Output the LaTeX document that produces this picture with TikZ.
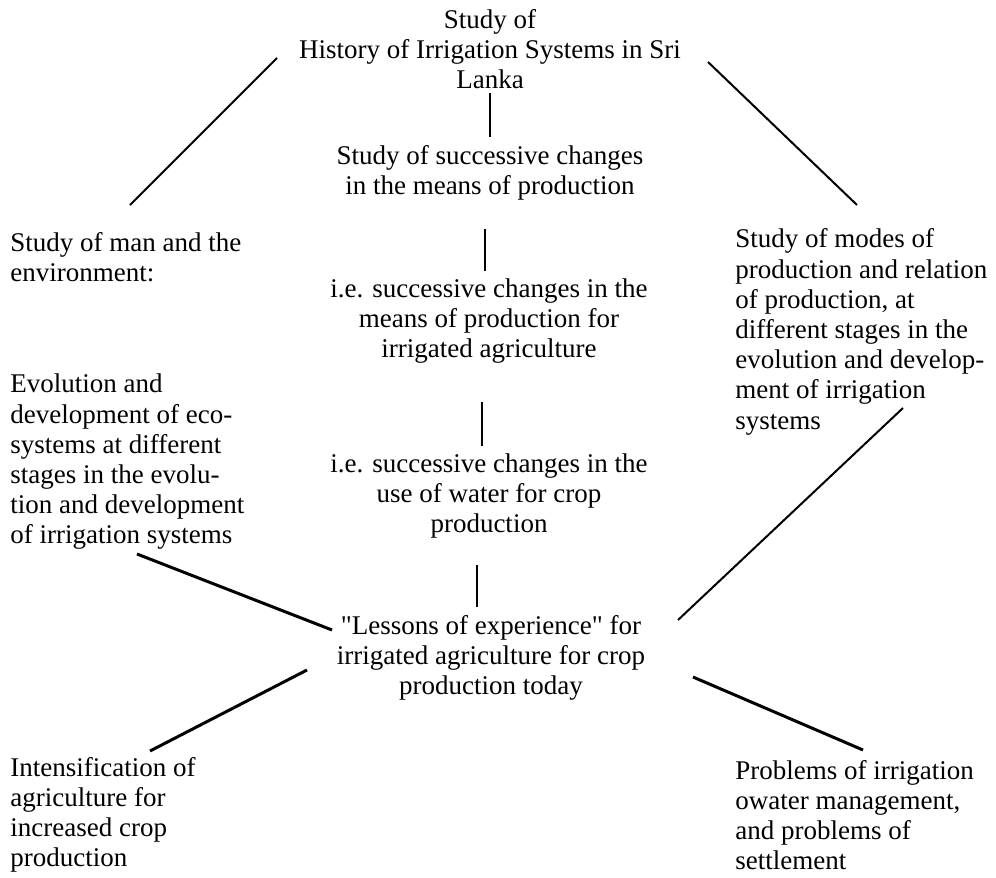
\documentclass[tikz,border=0pt]{standalone}
\usepackage{fontspec}
\setmainfont{Liberation Serif}[Ligatures=TeXOff]
\usepackage{tikz}
\usetikzlibrary{positioning}
\tikzset{
  study/.style={inner sep=0pt, font=\fontsize{13.5}{15.1}\selectfont},
  mid/.style={study, align=center},
  side/.style={study, align=left, anchor=west},
  thin link/.style={line width=1pt},
  thick link/.style={line width=1.5pt}
}
\begin{document}
\begin{tikzpicture}[x=0.5pt, y=-0.5pt]
  \useasboundingbox (0,0) rectangle (996,878);
  % Middle column
  \node[mid] (hist) at (490,49) {Study of\\History of Irrigation Systems in Sri\\Lanka};
  \node[mid] (means) at (490,173) {Study of successive changes\\in the means of production};
  \node[mid] (meansirr) at (489,321) {i.e. successive changes in the\\means of production for\\irrigated agriculture};
  \node[mid] (water) at (489,496) {i.e. successive changes in the\\use of water for crop\\production};
  \node[mid] (lessons) at (491,658) {"Lessons of experience" for\\irrigated agriculture for crop\\production today};

  % Side columns
  \node[side] (man) at (10,257) {Study of man and the\\environment:};
  \node[side] (eco) at (10,462) {Evolution and\\development of eco-\\systems at different\\stages in the evolu-\\tion and development\\of irrigation systems};
  \node[side] (modes) at (735,332) {Study of modes of\\production and relation\\of production, at\\different stages in the\\evolution and develop-\\ment of irrigation\\systems};
  \node[side] (intens) at (10,815) {Intensification of\\agriculture for\\increased crop\\production};
  \node[side] (probl) at (735,815) {Problems of irrigation\\owater management,\\and problems of\\settlement};

  % Line ends
  \coordinate (hist-s) at (490,93);
  \coordinate (means-n) at (490,137);
  \coordinate (means-s) at (485,229);
  \coordinate (meansirr-n) at (485,271);
  \coordinate (meansirr-s) at (482,402);
  \coordinate (water-n) at (482,446);
  \coordinate (water-s) at (477,565);
  \coordinate (lessons-n) at (477,607);
  \coordinate (hist-w) at (277,58);
  \coordinate (man-n) at (130,205);
  \coordinate (hist-e) at (708,62);
  \coordinate (modes-n) at (857,205);
  \coordinate (eco-s) at (137,554);
  \coordinate (lessons-nw) at (332,630);
  \coordinate (modes-s) at (903,408);
  \coordinate (lessons-ne) at (678,620);
  \coordinate (intens-n) at (150,751);
  \coordinate (lessons-sw) at (307,670);
  \coordinate (probl-n) at (863,750);
  \coordinate (lessons-se) at (693,677);

  % Links down the middle
  \draw[thin link] (hist-s) -- (means-n);
  \draw[thin link] (means-s) -- (meansirr-n);
  \draw[thin link] (meansirr-s) -- (water-n);
  \draw[thin link] (water-s) -- (lessons-n);

  % Links to the sides
  \draw[thin link] (hist-w) -- (man-n);
  \draw[thin link] (hist-e) -- (modes-n);
  \draw[thick link] (eco-s) -- (lessons-nw);
  \draw[thin link] (modes-s) -- (lessons-ne);
  \draw[thick link] (lessons-sw) -- (intens-n);
  \draw[thick link] (lessons-se) -- (probl-n);
\end{tikzpicture}
\end{document}
